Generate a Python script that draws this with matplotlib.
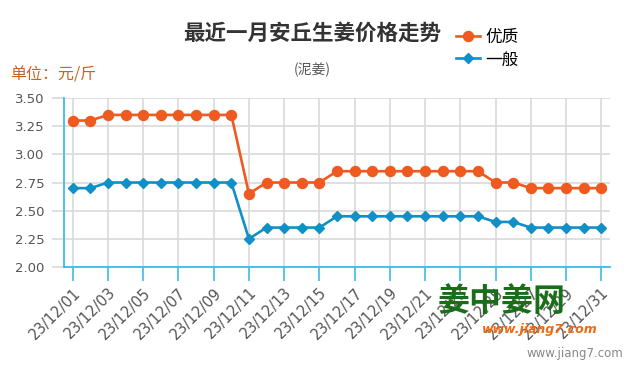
import matplotlib
matplotlib.use('Agg')
import matplotlib.pyplot as plt
import numpy as np

plt.rcParams['font.family'] = ['Noto Sans CJK SC', 'DejaVu Sans']

# Data
days = ['23/12/%02d' % d for d in range(1, 32)]
good = [3.30, 3.30, 3.35, 3.35, 3.35, 3.35, 3.35, 3.35, 3.35, 3.35,
        2.65, 2.75, 2.75, 2.75, 2.75, 2.85, 2.85, 2.85, 2.85, 2.85,
        2.85, 2.85, 2.85, 2.85, 2.75, 2.75, 2.70, 2.70, 2.70, 2.70, 2.70]
normal = [2.70, 2.70, 2.75, 2.75, 2.75, 2.75, 2.75, 2.75, 2.75, 2.75,
          2.25, 2.35, 2.35, 2.35, 2.35, 2.45, 2.45, 2.45, 2.45, 2.45,
          2.45, 2.45, 2.45, 2.45, 2.40, 2.40, 2.35, 2.35, 2.35, 2.35, 2.35]
yticks = [2.00, 2.25, 2.50, 2.75, 3.00, 3.25, 3.50]

orange = '#ee5a20'
blue = '#1190c8'
axis_blue = '#3dbbe8'
grid_gray = '#d9d9d9'

fig = plt.figure(figsize=(6.35, 3.75), dpi=100)
ax = fig.add_axes([64/635, 1-267/375, (610-64)/635, (267-98)/375])

x = np.arange(len(days))
l1, = ax.plot(x, good, color=orange, lw=1.9, marker='o', ms=7.2, label='优质', zorder=3)
l2, = ax.plot(x, normal, color=blue, lw=1.9, marker='D', ms=5.2, label='一般', zorder=3)

ax.set_xlim(-0.5, len(days) - 0.5)
ax.set_ylim(2.0, 3.5)
ax.set_yticks(yticks)
ax.set_yticklabels(['%.2f' % v for v in yticks], fontsize=9.5, color='#555555', family='DejaVu Sans')
ax.set_xticks(x[::2])
ax.set_xticklabels(days[::2], rotation=45, ha='right', va='top', rotation_mode='anchor',
                   fontsize=10.5, color='#555555', family='DejaVu Sans')

ax.grid(True, color=grid_gray, lw=1.2)
ax.set_axisbelow(True)
for s in ['top', 'right']:
    ax.spines[s].set_visible(False)
for s in ['left', 'bottom']:
    ax.spines[s].set_color(axis_blue)
    ax.spines[s].set_linewidth(1.3)
ax.tick_params(axis='x', length=10, width=1.2, color=axis_blue, pad=3)
ax.tick_params(axis='y', length=9, width=1.2, color=grid_gray, pad=5)

# titles and notes
fig.text(312/635, 1-33/375, '最近一月安丘生姜价格走势', ha='center', va='center',
         fontsize=15.5, fontweight='bold', color='#333333')
fig.text(312/635, 1-70/375, '(泥姜)', ha='center', va='center', fontsize=10, color='#555555')
fig.text(10/635, 1-75/375, '单位：元/斤', ha='left', va='center', fontsize=11.5, color='#c8641e')

fig.legend(handles=[l1, l2], loc='upper left', bbox_to_anchor=(448/635, 1-21/375),
           frameon=False, fontsize=12, handlelength=1.4, handletextpad=0.35,
           labelspacing=0.3, borderpad=0)

# watermark
fig.text(438/635, 1-302/375, '姜中姜网', ha='left', va='center', fontsize=23,
         fontweight='bold', color='#1a6e1a')
fig.text(482/635, 1-330/375, 'www.jiang7.com', ha='left', va='center', fontsize=9,
         fontweight='bold', fontstyle='italic', color='#f26a10', family='DejaVu Sans')
fig.text(623/635, 1-353/375, 'www.jiang7.com', ha='right', va='center', fontsize=8.5,
         color='#888888', family='DejaVu Sans')

fig.savefig('out.png', dpi=100)
